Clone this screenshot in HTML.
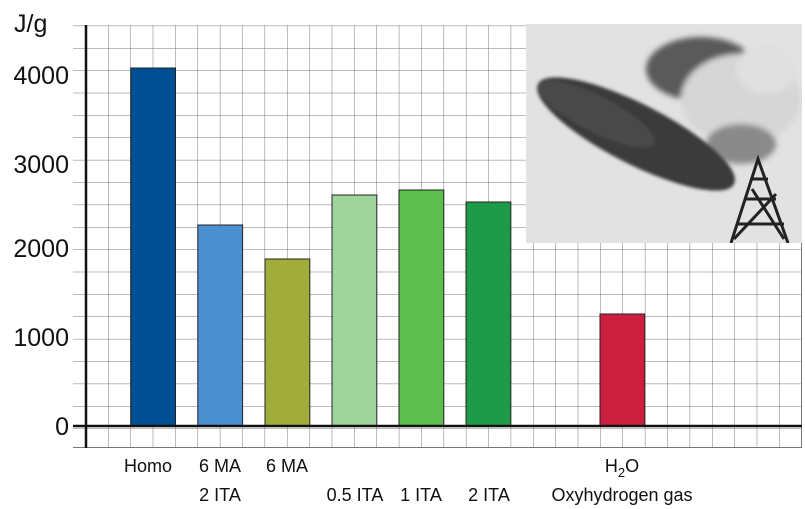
<!DOCTYPE html>
<html><head><style>
html,body{margin:0;padding:0;background:#fff;}
svg{display:block;font-family:"Liberation Sans",Arial,sans-serif;}
</style></head><body>
<svg width="805" height="509" viewBox="0 0 805 509">
<defs>
<pattern id="g" patternUnits="userSpaceOnUse" x="108" y="3.25" width="22.37" height="22.375">
<path d="M0 0V22.375M0 0H22.37" stroke="#777" stroke-width="1" fill="none"/>
</pattern>
<filter id="bl"><feGaussianBlur stdDeviation="3"/></filter>
<filter id="bl2"><feGaussianBlur stdDeviation="1.5"/></filter>
</defs>
<rect x="73" y="25" width="729" height="423" fill="url(#g)"/>
<line x1="801.5" y1="25" x2="801.5" y2="448" stroke="#777"/>
<line x1="73" y1="447.5" x2="802" y2="447.5" stroke="#777"/>
<g stroke="#222" stroke-width="1">
<rect x="130.7" y="68" width="44.8" height="358" fill="#004f94"/>
<rect x="197.8" y="225" width="44.8" height="201" fill="#4a90d0"/>
<rect x="265" y="259" width="44.8" height="167" fill="#a0ad3a"/>
<rect x="332" y="195" width="44.8" height="231" fill="#9fd49a"/>
<rect x="399" y="190" width="44.8" height="236" fill="#5cbf50"/>
<rect x="466" y="202" width="44.8" height="224" fill="#1e9a4a"/>
<rect x="600" y="314" width="44.8" height="112" fill="#cc1f40"/>
</g>
<line x1="86" y1="25" x2="86" y2="448" stroke="#111" stroke-width="2.5"/>
<line x1="73" y1="426" x2="802" y2="426" stroke="#111" stroke-width="2.5"/>
<svg x="526" y="24" width="276" height="219" viewBox="0 0 276 219">
<rect width="276" height="219" fill="#e2e2e2"/>
<g filter="url(#bl)">
<ellipse cx="175" cy="45" rx="55" ry="32" fill="#5a5a5a"/>
<ellipse cx="215" cy="75" rx="60" ry="45" fill="#d6d6d6"/>
<ellipse cx="240" cy="45" rx="30" ry="25" fill="#e0e0e0"/>
<ellipse cx="215" cy="120" rx="35" ry="20" fill="#8a8a8a"/>
</g>
<g filter="url(#bl2)">
<ellipse cx="110" cy="110" rx="110" ry="30" transform="rotate(27 110 110)" fill="#3a3a3a"/>
<ellipse cx="70" cy="90" rx="65" ry="18" transform="rotate(27 70 90)" fill="#4a4a4a"/>
</g>
<g stroke="#222" stroke-width="3" fill="none">
<path d="M205 219 L232 135 L262 219"/>
<path d="M220 175 H250 M212 200 H258 M226 155 H242 M208 215 L250 170 M258 215 L226 165"/>
</g>
</svg>
<g font-size="25" fill="#111" text-anchor="end">
<text x="69" y="84">4000</text>
<text x="69" y="173">3000</text>
<text x="69" y="257">2000</text>
<text x="69" y="346">1000</text>
<text x="69" y="435">0</text>
</g>
<text x="14" y="32" font-size="25" fill="#111">J/g</text>
<g font-size="18" fill="#111" text-anchor="middle">
<text x="148" y="472">Homo</text>
<text x="220" y="472">6 MA</text>
<text x="220" y="501">2 ITA</text>
<text x="287" y="472">6 MA</text>
<text x="355" y="501">0.5 ITA</text>
<text x="421" y="501">1 ITA</text>
<text x="489" y="501">2 ITA</text>
<text x="622" y="472">H<tspan font-size="13" dy="5">2</tspan><tspan dy="-5">O</tspan></text>
<text x="622" y="501">Oxyhydrogen gas</text>
</g>
</svg>
</body></html>
